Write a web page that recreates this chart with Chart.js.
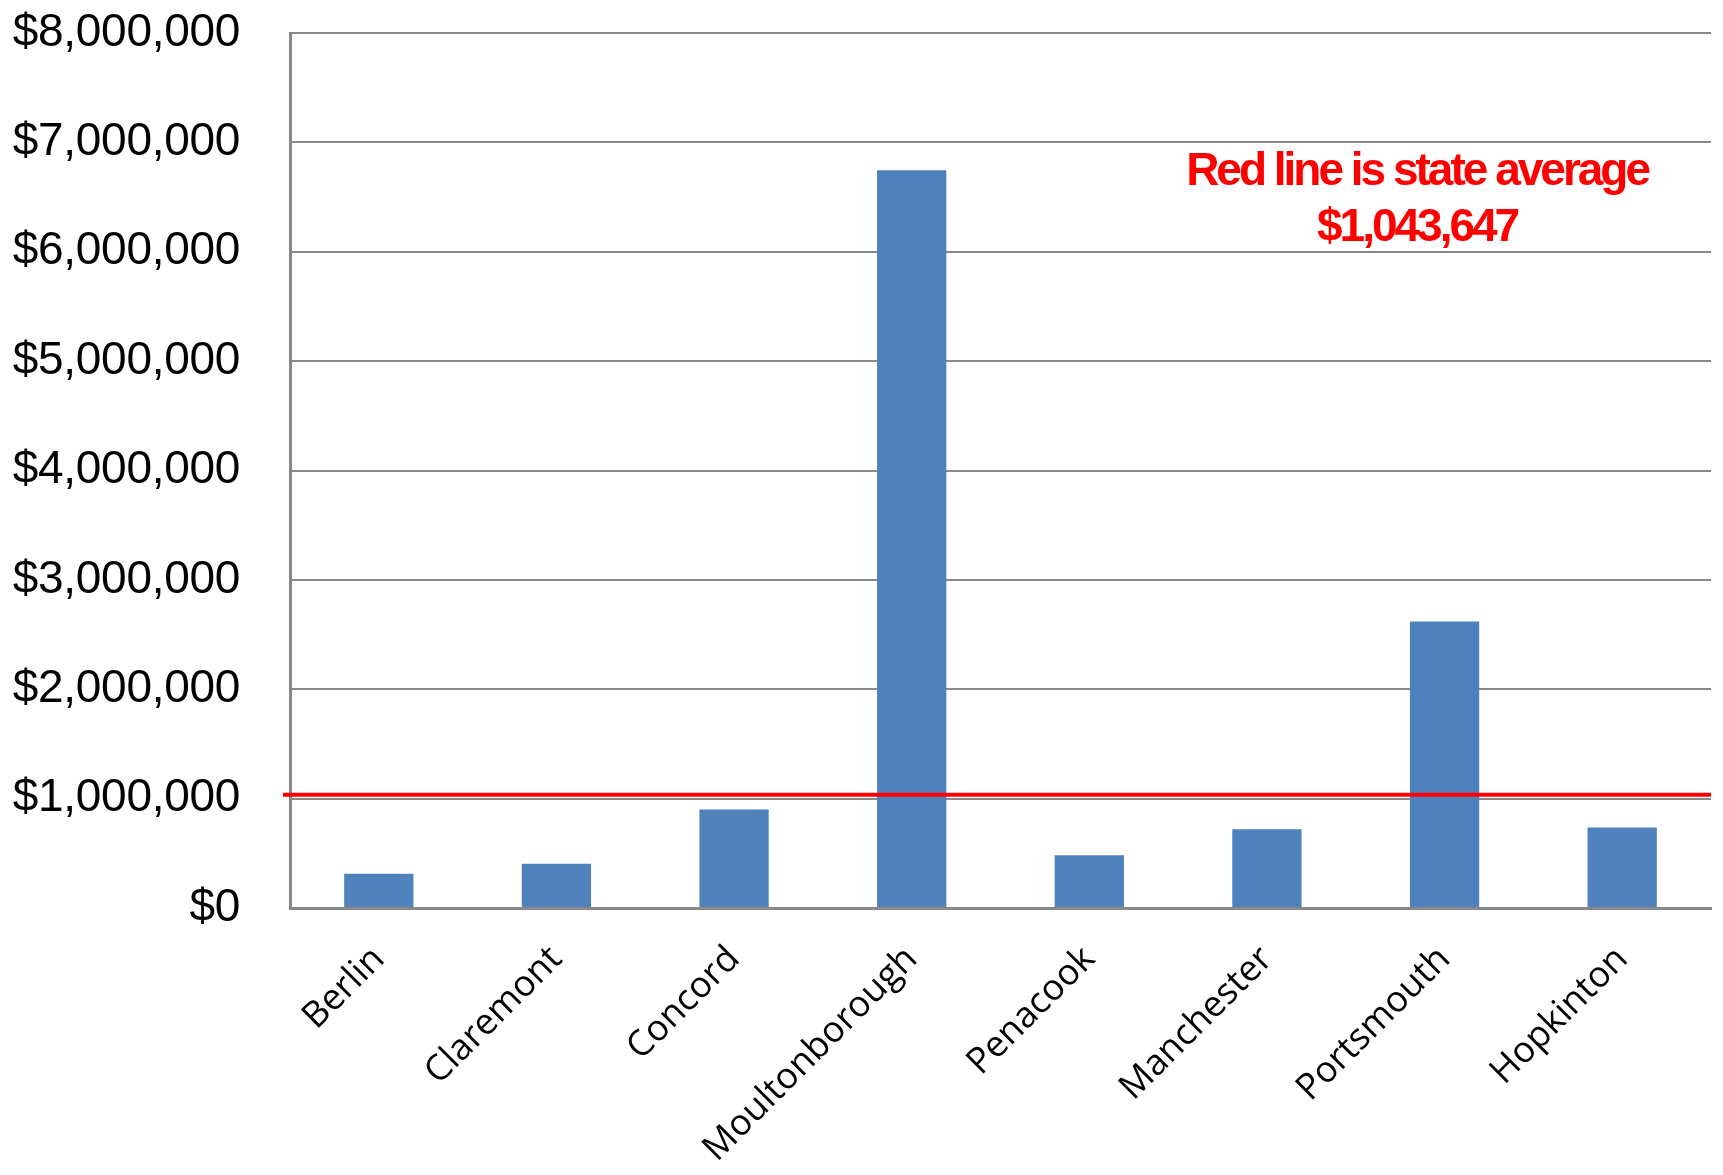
<!DOCTYPE html>
<html>
<head>
<meta charset="utf-8">
<script src="https://cdn.jsdelivr.net/npm/chart.js@4/dist/chart.umd.min.js"></script>
<style>
  html, body { margin: 0; padding: 0; background: #ffffff; }
  #wrap { width: 1723px; height: 1175px; position: relative; }
</style>
</head>
<body>
<div id="wrap"><canvas id="c" width="1723" height="1175"></canvas></div>
<script>
const categories = ["Berlin", "Claremont", "Concord", "Moultonborough", "Penacook", "Manchester", "Portsmouth", "Hopkinton"];
const values = [314000, 405000, 900000, 6746000, 482000, 720000, 2620000, 735000];
const stateAverage = 1043647;
const yTickValues = [0, 1000000, 2000000, 3000000, 4000000, 5000000, 6000000, 7000000, 8000000];
const yTickLabels = ["$0", "$1,000,000", "$2,000,000", "$3,000,000", "$4,000,000", "$5,000,000", "$6,000,000", "$7,000,000", "$8,000,000"];
const annotationLines = ["Red line is state average", "$1,043,647"];

const overlay = {
  id: 'overlay',
  afterDatasetsDraw(chart) {
    const ctx = chart.ctx;
    const ys = chart.scales.y;
    const area = chart.chartArea;
    const yAvg = ys.getPixelForValue(stateAverage);
    ctx.save();
    ctx.strokeStyle = '#ff0000';
    ctx.lineWidth = 4;
    ctx.beginPath();
    ctx.moveTo(area.left - 7, yAvg + 1);
    ctx.lineTo(area.right, yAvg + 1);
    ctx.stroke();
    ctx.restore();
  },
  afterDraw(chart) {
    const ctx = chart.ctx;
    const ys = chart.scales.y;
    const area = chart.chartArea;
    ctx.save();
    // y tick labels
    ctx.font = '46px "Liberation Sans", Arial, sans-serif';
    ctx.letterSpacing = '-0.3px';
    ctx.fillStyle = '#000000';
    ctx.textAlign = 'right';
    ctx.textBaseline = 'middle';
    yTickValues.forEach((v, i) => {
      ctx.fillText(yTickLabels[i], area.left - 50, ys.getPixelForValue(v));
    });
    // annotation
    ctx.font = 'bold 46px "Liberation Sans", Arial, sans-serif';
    ctx.letterSpacing = '-3px';
    ctx.fillStyle = '#ff0000';
    ctx.textAlign = 'center';
    ctx.textBaseline = 'alphabetic';
    const cx = area.left + (area.right - area.left) * 0.7995 - 9;
    ctx.fillText(annotationLines[0], cx, area.top + 152);
    ctx.fillText(annotationLines[1], cx, area.top + 208);
    ctx.restore();
  }
};

new Chart(document.getElementById('c'), {
  type: 'bar',
  data: {
    labels: categories,
    datasets: [{
      data: values,
      backgroundColor: '#4f81bd',
      borderWidth: 0,
      barPercentage: 0.39,
      categoryPercentage: 1.0
    }]
  },
  options: {
    responsive: false,
    animation: false,
    devicePixelRatio: 1,
    layout: { padding: { left: 0, right: 12, top: 33, bottom: 0 } },
    plugins: { legend: { display: false }, tooltip: { enabled: false } },
    scales: {
      x: {
        grid: { display: false, drawTicks: false },
        border: { display: true, color: '#888888', width: 3 },
        ticks: {
          color: '#000000',
          font: { family: '"Open Sans", sans-serif', size: 36 },
          minRotation: 45,
          maxRotation: 45,
          padding: 30,
          autoSkip: false
        },
        afterFit(scale) { scale.height = 267; }
      },
      y: {
        min: 0,
        max: 8000000,
        ticks: { display: false, stepSize: 1000000 },
        grid: { color: '#8a8a8a', lineWidth: 2, drawTicks: false },
        border: { display: true, color: '#888888', width: 3 },
        afterFit(scale) { scale.width = 290; }
      }
    }
  },
  plugins: [overlay]
});
</script>
</body>
</html>
